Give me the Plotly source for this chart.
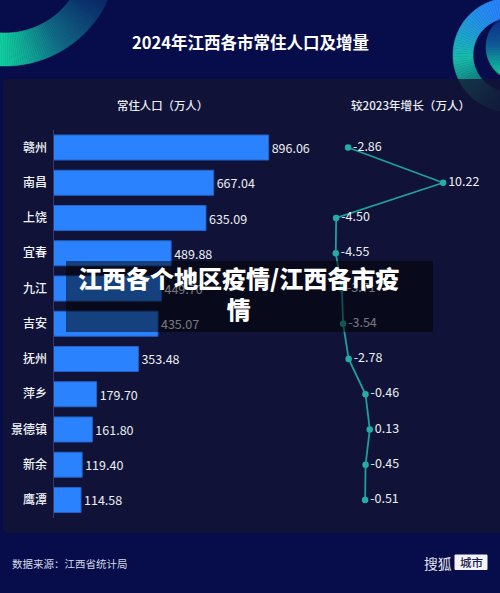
import math
import plotly.graph_objects as go

cities = ['赣州', '南昌', '上饶', '宜春', '九江', '吉安', '抚州', '萍乡', '景德镇', '新余', '鹰潭']
population = [896.06, 667.04, 635.09, 489.88, 449.70, 435.07, 353.48, 179.70, 161.80, 119.40, 114.58]
change = [-2.86, 10.22, -4.50, -4.55, -3.71, -3.54, -2.78, -0.46, 0.13, -0.45, -0.51]

W, H = 500, 593
FONT = 'Noto Sans CJK SC'
BG = '#070d4a'


def px(x):
    return x / W


def py(y):
    return 1 - y / H


def mix(c1, c2, t):
    t = max(0, min(1, t))
    return 'rgb(%d,%d,%d)' % tuple(a + (b - a) * t for a, b in zip(c1, c2))


def ramp(stops, t):
    # stops = [(pos, rgb), ...]
    for (p1, c1), (p2, c2) in zip(stops, stops[1:]):
        if t <= p2:
            return mix(c1, c2, (t - p1) / (p2 - p1))
    return mix(stops[-1][1], stops[-1][1], 1)


def poly(points, color):
    path = 'M' + 'L'.join('%.5f,%.5f' % (px(x), py(y)) for x, y in points) + 'Z'
    return dict(type='path', path=path, xref='paper', yref='paper', fillcolor=color,
                line=dict(color=color, width=0.5), layer='below')


def ring(cx, cy, r0, r1, a0, a1, color_at, n=70):
    out = []
    for i in range(n):
        t0 = math.radians(a0 + (a1 - a0) * i / n)
        t1 = math.radians(a0 + (a1 - a0) * (i + 1) / n)
        pts = [(cx + r0 * math.cos(t0), cy + r0 * math.sin(t0)),
               (cx + r1 * math.cos(t0), cy + r1 * math.sin(t0)),
               (cx + r1 * math.cos(t1), cy + r1 * math.sin(t1)),
               (cx + r0 * math.cos(t1), cy + r0 * math.sin(t1))]
        mx = (pts[0][0] + pts[2][0]) / 2
        my = (pts[0][1] + pts[2][1]) / 2
        out.append(poly(pts, color_at(mx, my)))
    return out


navy = (7, 13, 74)
green = (16, 214, 160)
blue = (42, 128, 255)
teal = (24, 190, 170)

shapes = []

# corner decorations
shapes += ring(5, -47, 80, 113, 20, 100,
               lambda x, y: ramp([(0, green), (0.45, (18, 110, 135)), (1, (12, 40, 105))],
                                 (x - 10 + (62 - y)) / 150))
shapes += ring(510, 55, 37, 57, 90, 290,
               lambda x, y: ramp([(0, blue), (0.5, teal), (0.78, (18, 120, 125)), (1, navy)],
                                 (y - 5) / 105))
for i in range(40):
    y0 = 18 + i * 1.65
    y1 = y0 + 1.9
    ym = (y0 + y1) / 2
    if abs(ym - 47) >= 34:
        continue
    xl = 520 - math.sqrt(34 ** 2 - (ym - 47) ** 2)
    shapes.append(poly([(xl, y0), (501, y0), (501, y1), (xl, y1)],
                       ramp([(0, (16, 50, 140)), (0.4, (18, 90, 150)), (1, green)], (ym - 22) / 56)))

# chart panel
r = 5
x0, x1, y0, y1 = 3, 503, 79, 533
panel = ('M%f,%f L%f,%f L%f,%f L%f,%f Q%f,%f %f,%f L%f,%f Q%f,%f %f,%f Z' % (
    px(x0 + r), py(y0), px(x1), py(y0), px(x1), py(y1), px(x0 + r), py(y1),
    px(x0), py(y1), px(x0), py(y1 - r), px(x0), py(y0 + r), px(x0), py(y0), px(x0 + r), py(y0)))
shapes.append(dict(type='path', path=panel, xref='paper', yref='paper',
                   fillcolor='rgba(20,21,50,0.75)', line=dict(width=0), layer='below'))

# dark band over the chart
shapes.append(dict(type='rect', xref='paper', yref='paper', x0=px(66), x1=px(433), y0=py(332), y1=py(261),
                   fillcolor='rgba(0,0,0,0.5)', line=dict(width=0), layer='above'))

# logo tag
shapes.append(dict(type='rect', xref='paper', yref='paper', x0=px(455), x1=px(487), y0=py(569.5), y1=py(555),
                   fillcolor='#f2f3f7', line=dict(color='#f2f3f7', width=1), layer='below'))

fig = go.Figure()

fig.add_trace(go.Bar(
    y=cities, x=population, orientation='h', xaxis='x', yaxis='y',
    marker=dict(color='#2b82ff', line=dict(color='#2362c4', width=1)),
    text=['%.2f' % v for v in population], textposition='outside', cliponaxis=False,
    textfont=dict(family=FONT, size=12.5, color='#eceef5'),
))

fig.add_trace(go.Scatter(
    y=cities, x=change, xaxis='x2', yaxis='y', mode='lines+markers+text',
    line=dict(color='#1f9f9c', width=1.8),
    marker=dict(color='#25ada3', size=6.5),
    text=['%.2f' % v for v in change], textposition='middle right', cliponaxis=False,
    textfont=dict(family=FONT, size=12.5, color='#eceef5'),
))

notes = [
    (250, 42, '2024年江西各市常住人口及增量', 16.5, '#ffffff', 'center', 700),
    (162.5, 105.5, '常住人口（万人）', 11.4, '#eceef5', 'center', 500),
    (410, 105.5, '较2023年增长（万人）', 11.6, '#eceef5', 'center', 500),
    (10, 563.5, '数据来源：江西省统计局', 10.5, '#d5d8e4', 'left', 400),
    (422, 562.5, '搜狐', 13.8, '#e6e8f0', 'left', 400),
    (471, 562, '城市', 11.5, '#1b2050', 'center', 500),
    (238, 292.5, '江西各个地区疫情/江西各市疫<br>情', 24, '#ffffff', 'center', 900),
]
annotations = [
    dict(x=px(x), y=py(y), xref='paper', yref='paper', text=t, showarrow=False, xanchor=a, yanchor='middle',
         align='center', font=dict(family=FONT, size=s, color=c, weight=w))
    for x, y, t, s, c, a, w in notes
]

fig.update_layout(
    width=W, height=H, margin=dict(l=0, r=0, t=0, b=0),
    autosize=False,
    paper_bgcolor=BG, plot_bgcolor='rgba(0,0,0,0)',
    showlegend=False, bargap=0.29,
    shapes=shapes, annotations=annotations,
    font=dict(family=FONT),
    xaxis=dict(domain=[px(53.5), px(320)], range=[0, 1110], visible=False, fixedrange=True),
    xaxis2=dict(domain=[px(320), px(480)], range=[-6.72, 15.3], visible=False, anchor='y', fixedrange=True),
    yaxis=dict(domain=[py(517.6), py(129.9)], type='category', categoryorder='array', categoryarray=cities,
               range=[10.5, -0.5], showgrid=False, zeroline=False, showline=True, linecolor='#333a70', linewidth=1,
               ticks='', ticklabelstandoff=3, tickfont=dict(family=FONT, size=12, color='#f2f3f8', weight=500),
               anchor='x', fixedrange=True),
)

# page default margin would shift the figure
fig.write_html("out.html", config=dict(displayModeBar=False),
               post_script="document.body.style.margin='0';document.documentElement.style.background='%s';" % BG)
